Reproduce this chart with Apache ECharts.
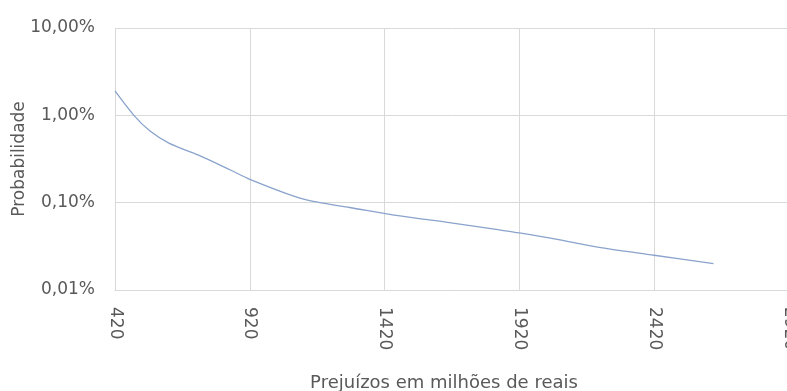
<!DOCTYPE html>
<html>
<head>
<meta charset="utf-8">
<script src="https://cdn.jsdelivr.net/npm/echarts@6/dist/echarts.min.js"></script>
<style>
  html, body { margin: 0; padding: 0; background: #fff; }
  #chart { width: 787px; height: 391px; }
</style>
</head>
<body>
<div id="chart"></div>
<script>
// Loss axis: R$ millions, one category every 10 from 420 to 2920
const lossStart = 420;
const lossEnd = 2920;
const lossStep = 10;

// Observed losses and their exceedance probability (in %)
const lossPoints = [420, 490, 550, 620, 730, 850, 920, 1100, 1180, 1290, 1470, 1660, 1840, 1920, 2060, 2210, 2420, 2640];
const probPercent = [1.90, 1.00, 0.66, 0.48, 0.35, 0.235, 0.185, 0.114, 0.100, 0.088, 0.071, 0.059, 0.049, 0.045, 0.038, 0.031, 0.025, 0.020];

const categories = [];
for (let v = lossStart; v <= lossEnd; v += lossStep) categories.push(String(v));

// Place each observation on its category; the rest stay empty and the line bridges them
const seriesData = categories.map(() => null);
lossPoints.forEach((x, i) => {
  seriesData[Math.round((x - lossStart) / lossStep)] = probPercent[i];
});

const textColor = '#595959';
const gridColor = '#d9d9d9';
const font = 'DejaVu Sans';

const chart = echarts.init(document.getElementById('chart'), null, { renderer: 'canvas' });
chart.setOption({
  animation: false,
  backgroundColor: '#ffffff',
  grid: { left: 115, right: -2, top: 28, bottom: 101, containLabel: false, outerBoundsMode: 'none' },
  xAxis: {
    type: 'category',
    data: categories,
    boundaryGap: false,
    name: 'Prejuízos em milhões de reais',
    nameLocation: 'middle',
    nameGap: 84,
    nameMoveOverlap: false,
    nameTextStyle: { color: textColor, fontFamily: font, fontSize: 18, padding: [0, 16, 0, 0] },
    axisLine: { show: true, lineStyle: { color: gridColor, width: 1 } },
    axisTick: { show: false },
    axisLabel: {
      interval: 49,
      rotate: -90,
      margin: 17,
      color: textColor,
      fontFamily: font,
      fontSize: 17,
      showMaxLabel: true
    },
    splitLine: { show: true, interval: 49, lineStyle: { color: gridColor, width: 1 } }
  },
  yAxis: {
    type: 'log',
    logBase: 10,
    min: 0.01,
    max: 10,
    name: 'Probabilidade',
    nameLocation: 'middle',
    nameGap: 87,
    nameMoveOverlap: false,
    nameTextStyle: { color: textColor, fontFamily: font, fontSize: 17 },
    axisLine: { show: false },
    axisTick: { show: false },
    axisLabel: {
      margin: 20,
      color: textColor,
      fontFamily: font,
      fontSize: 17,
      formatter: v => v.toFixed(2).replace('.', ',') + '%'
    },
    splitLine: { show: true, lineStyle: { color: gridColor, width: 1 } }
  },
  series: [{
    type: 'line',
    data: seriesData,
    connectNulls: true,
    showSymbol: false,
    symbol: 'none',
    smooth: 0.3,
    lineStyle: { color: '#8aa3cc', width: 1.3 }
  }]
});
</script>
</body>
</html>
